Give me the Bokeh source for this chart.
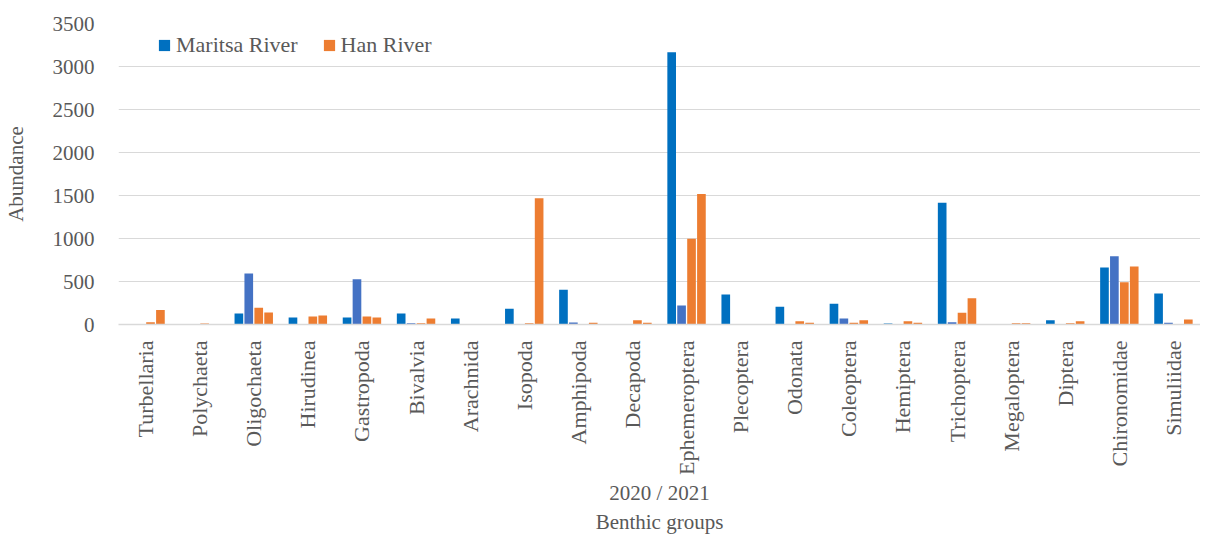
import math
from bokeh.plotting import figure
from bokeh.models import FactorRange, Range1d, Legend, LegendItem, ColumnDataSource, FixedTicker
from bokeh.transform import dodge
from bokeh.embed import file_html
from bokeh.resources import INLINE

categories = ["Turbellaria", "Polychaeta", "Oligochaeta", "Hirudinea", "Gastropoda",
              "Bivalvia", "Arachnida", "Isopoda", "Amphipoda", "Decapoda",
              "Ephemeroptera", "Plecoptera", "Odonata", "Coleoptera", "Hemiptera",
              "Trichoptera", "Megaloptera", "Diptera", "Chironomidae", "Simuliidae"]
maritsa_2020 = [0, 0, 128, 81, 81, 128, 70, 182, 403, 0, 3167, 349, 205, 240, 12, 1415, 0, 50, 663, 360]
maritsa_2021 = [0, 0, 593, 0, 527, 15, 0, 0, 23, 0, 221, 0, 0, 70, 0, 27, 0, 0, 795, 19]
han_2020 = [27, 12, 194, 93, 93, 15, 0, 15, 0, 50, 996, 0, 39, 19, 39, 136, 15, 15, 492, 0]
han_2021 = [170, 0, 140, 105, 81, 70, 0, 1469, 19, 19, 1516, 0, 19, 50, 19, 306, 15, 39, 674, 58]
y_ticks = [0, 500, 1000, 1500, 2000, 2500, 3000, 3500]
x_title_lines = ["2020 / 2021", "Benthic groups"]

FONT = "Liberation Serif"
GREY = "#595959"
BLUE = "#0070C0"
SLATE = "#4472C4"
ORANGE = "#ED7D31"

src = ColumnDataSource(dict(cat=categories, m20=maritsa_2020, m21=maritsa_2021,
                            h20=han_2020, h21=han_2021))

p = figure(x_range=FactorRange(*categories), y_range=Range1d(0, 3500),
           width=1200, height=536, output_backend="svg", toolbar_location=None,
           min_border_left=0, min_border_right=0, min_border_top=23, min_border_bottom=0)
p.x_range.range_padding = 0

bw = 0.16
r_m20 = p.vbar(x=dodge("cat", -0.275, range=p.x_range), top="m20", width=bw, source=src,
               fill_color=BLUE, line_color=None)
r_m21 = p.vbar(x=dodge("cat", -0.092, range=p.x_range), top="m21", width=bw, source=src,
               fill_color=SLATE, line_color=None)
r_h20 = p.vbar(x=dodge("cat", 0.092, range=p.x_range), top="h20", width=bw, source=src,
               fill_color=ORANGE, line_color=None)
r_h21 = p.vbar(x=dodge("cat", 0.275, range=p.x_range), top="h21", width=bw, source=src,
               fill_color=ORANGE, line_color=None)

p.outline_line_color = None
p.xgrid.grid_line_color = None
p.ygrid.grid_line_color = "#D9D9D9"
p.ygrid.grid_line_width = 1
p.yaxis.ticker = FixedTicker(ticks=y_ticks)

for ax in (p.xaxis[0], p.yaxis[0]):
    ax.major_tick_line_color = None
    ax.minor_tick_line_color = None
    ax.major_label_text_font = FONT
    ax.major_label_text_font_size = "21px"
    ax.major_label_text_color = GREY
    ax.axis_label_text_font = FONT
    ax.axis_label_text_font_size = "21px"
    ax.axis_label_text_color = GREY
    ax.axis_label_text_font_style = "normal"

p.yaxis.axis_line_color = None
p.yaxis.axis_label = "Abundance"
p.yaxis.major_label_standoff = 18
p.yaxis.axis_label_standoff = 22

p.xaxis.axis_line_color = "#D9D9D9"
p.xaxis.axis_line_width = 1.5
p.xaxis.major_label_orientation = math.pi / 2
p.xaxis.major_label_text_font_size = "22px"
p.xaxis.major_label_standoff = 10
p.xaxis.axis_label = "\n".join(x_title_lines)
p.xaxis.axis_label_standoff = 3

legend = Legend(items=[LegendItem(label="Maritsa River", renderers=[r_m20]),
                       LegendItem(label="Han River", renderers=[r_h20])],
                orientation="horizontal", location=(39, 266),
                glyph_width=14, glyph_height=14, label_standoff=5, spacing=24,
                padding=0, margin=0, border_line_color=None, background_fill_alpha=0,
                label_text_font=FONT, label_text_font_size="22px", label_text_color=GREY)
p.add_layout(legend)

open("out.html", "w").write(file_html(p, INLINE))
